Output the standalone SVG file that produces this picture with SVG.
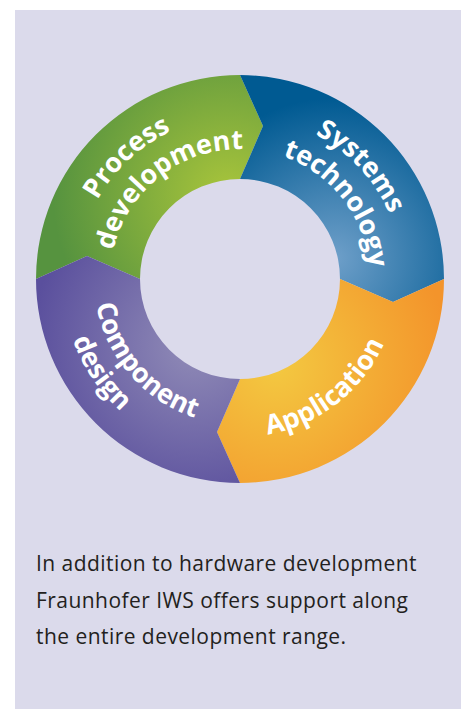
<svg xmlns="http://www.w3.org/2000/svg" width="465" height="709" viewBox="0 0 465 709">
<style>
.lbl{font-family:"Open Sans","DejaVu Sans",sans-serif;font-weight:700;font-size:27px;fill:#ffffff;text-anchor:middle}
.cap{font-family:"Open Sans","Liberation Sans",sans-serif;font-size:21px;letter-spacing:0.45px;fill:#231f20}
</style>
<defs>
<radialGradient id="gGreen" gradientUnits="userSpaceOnUse" cx="228" cy="195" r="175">
<stop offset="0" stop-color="#a9c53b"/><stop offset="1" stop-color="#56933f"/>
</radialGradient>
<radialGradient id="gBlue" gradientUnits="userSpaceOnUse" cx="335" cy="258" r="160">
<stop offset="0" stop-color="#6e9fc9"/><stop offset="1" stop-color="#005a92"/>
</radialGradient>
<radialGradient id="gOrange" gradientUnits="userSpaceOnUse" cx="275" cy="365" r="175">
<stop offset="0" stop-color="#f3c941"/><stop offset="1" stop-color="#f3942b"/>
</radialGradient>
<radialGradient id="gPurple" gradientUnits="userSpaceOnUse" cx="195" cy="345" r="165">
<stop offset="0" stop-color="#918cb7"/><stop offset="1" stop-color="#5a4f9d"/>
</radialGradient>
<path id="tProcess" d="M81.2,315.7 A163,163 0 0 1 287.7,123.1"/>
<path id="tDevelopment" d="M111.3,297.1 A130,130 0 0 1 288.7,158.5"/>
<path id="tSystems" d="M203.3,120.2 A163,163 0 0 1 395.9,326.7"/>
<path id="tTechnology" d="M221.9,150.3 A130,130 0 0 1 360.5,327.7"/>
<path id="tApplication" d="M180.8,425.5 A158,158 0 0 0 396.5,257.0"/>
<path id="tComponent" d="M102.0,231.5 A146,146 0 0 0 267.9,422.3"/>
<path id="tDesign" d="M80.0,201.0 A178,178 0 0 0 252.4,456.6"/>
</defs>
<rect x="0" y="0" width="465" height="709" fill="#ffffff"/>
<rect x="15" y="10" width="446" height="699" fill="#dbdaeb"/>
<g id="process-development">
<path d="M36,279 A204,204 0 0 1 240,75 L263,126 L240,179 A100,100 0 0 0 140,279 L87,256 Z" fill="url(#gGreen)"/>
<text class="lbl"><textPath href="#tProcess" startOffset="50%">Process</textPath></text>
<text class="lbl"><textPath href="#tDevelopment" startOffset="50%">development</textPath></text>
</g>
<g id="systems-technology">
<path d="M240,75 A204,204 0 0 1 444,279 L393,302 L340,279 A100,100 0 0 0 240,179 L263,126 Z" fill="url(#gBlue)"/>
<text class="lbl"><textPath href="#tSystems" startOffset="50%">Systems</textPath></text>
<text class="lbl"><textPath href="#tTechnology" startOffset="50%">technology</textPath></text>
</g>
<g id="application">
<path d="M444,279 A204,204 0 0 1 240,483 L217,432 L240,379 A100,100 0 0 0 340,279 L393,302 Z" fill="url(#gOrange)"/>
<text class="lbl"><textPath href="#tApplication" startOffset="50%">Application</textPath></text>
</g>
<g id="component-design">
<path d="M240,483 A204,204 0 0 1 36,279 L87,256 L140,279 A100,100 0 0 0 240,379 L217,432 Z" fill="url(#gPurple)"/>
<text class="lbl"><textPath href="#tComponent" startOffset="50%">Component</textPath></text>
<text class="lbl"><textPath href="#tDesign" startOffset="50%">design</textPath></text>
</g>
<g id="connectors"/>
<g id="caption">
<text class="cap" x="36" y="571">In addition to hardware development</text>
<text class="cap" x="36" y="607.5">Fraunhofer IWS offers support along</text>
<text class="cap" x="36" y="644">the entire development range.</text>
</g>
</svg>
